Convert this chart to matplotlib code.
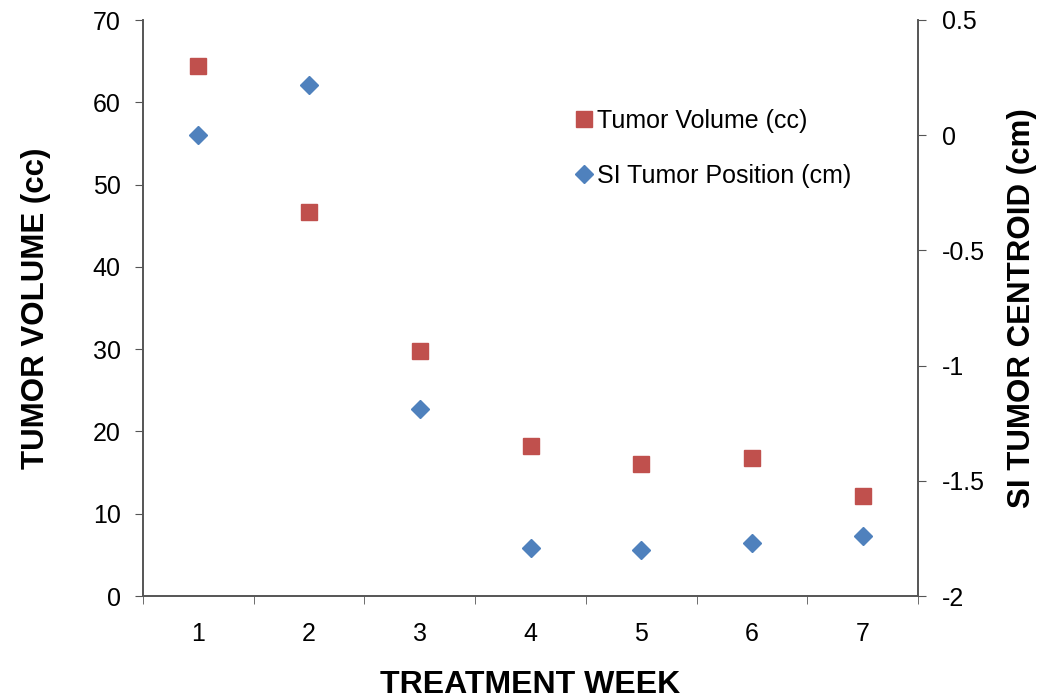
import matplotlib.pyplot as plt
import numpy as np

plt.rcParams['font.family'] = ['Liberation Sans', 'DejaVu Sans']

weeks = [1, 2, 3, 4, 5, 6, 7]
tumor_volume = [64.4, 46.7, 29.8, 18.2, 16.0, 16.8, 12.2]
si_position = [0.0, 0.22, -1.19, -1.79, -1.80, -1.77, -1.74]

red = '#C0504D'
blue = '#4F81BD'

fig = plt.figure(figsize=(10.42, 6.98), dpi=100)
ax = fig.add_axes([143 / 1042, 1 - 596 / 698, (918 - 143) / 1042, (596 - 20) / 698])
ax2 = ax.twinx()

h1, = ax.plot(weeks, tumor_volume, linestyle='none', marker='s', markersize=11,
              color=red, label='Tumor Volume (cc)')
h2, = ax2.plot(weeks, si_position, linestyle='none', marker='D', markersize=9.5,
               color=blue, label='SI Tumor Position (cm)')

ax.set_xlim(0.5, 7.5)
ax.set_ylim(0, 70)
ax2.set_ylim(-2, 0.5)
ax.set_yticks(np.arange(0, 71, 10))
ax2.set_yticks([-2, -1.5, -1, -0.5, 0, 0.5])
ax2.set_yticklabels(['-2', '-1.5', '-1', '-0.5', '0', '0.5'])

# category labels without ticks, ticks between categories
ax.set_xticks(weeks)
ax.set_xticklabels([str(w) for w in weeks])
ax.set_xticks(np.arange(0.5, 7.6, 1), minor=True)
ax.tick_params(axis='x', which='major', length=0, pad=19, labelsize=18)
ax.tick_params(axis='x', which='minor', length=6, direction='out', color='#555555')
ax.tick_params(axis='y', length=6, direction='out', labelsize=18, pad=10, color='#555555')
ax2.tick_params(axis='y', length=6, direction='out', labelsize=18, pad=11, color='#555555')

for a in (ax, ax2):
    a.spines['top'].set_visible(False)
    for s in ('left', 'right', 'bottom'):
        a.spines[s].set_color('#555555')
        a.spines[s].set_linewidth(1.2)

ax.set_xlabel('TREATMENT WEEK', fontsize=23, fontweight='bold', labelpad=17)
ax.set_ylabel('TUMOR VOLUME (cc)', fontsize=22.5, fontweight='bold', labelpad=30)
ax2.set_ylabel('SI TUMOR CENTROID (cm)', fontsize=22.5, fontweight='bold', labelpad=16)

ax2.legend(handles=[h1, h2], loc='upper left', bbox_to_anchor=(0.524, 0.885),
           frameon=False, fontsize=18, handletextpad=0.0, labelspacing=1.25,
           handlelength=1.0, markerscale=1.0)

fig.savefig('out.png', dpi=100)
